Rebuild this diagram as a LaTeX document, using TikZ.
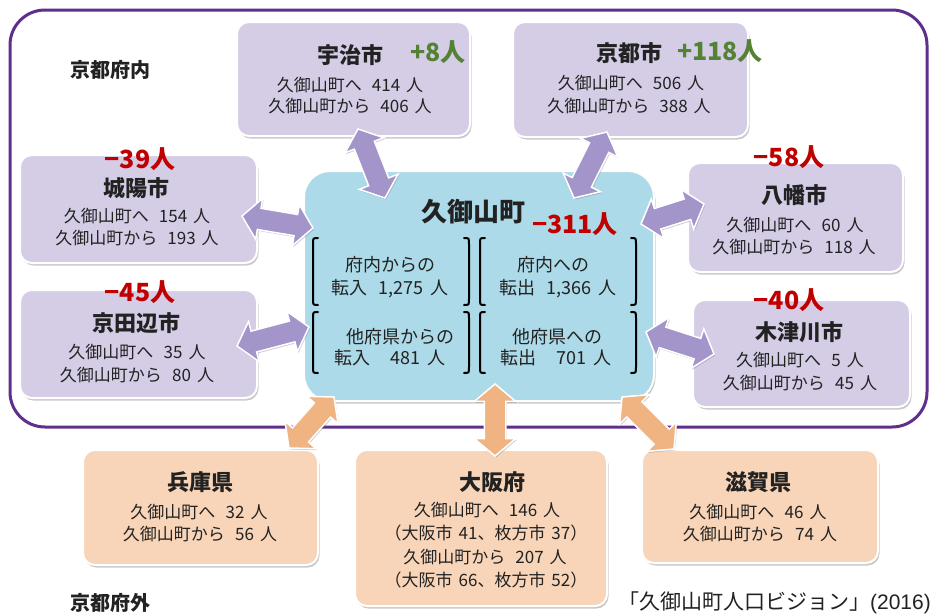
\documentclass[tikz,border=0pt]{standalone}
\usepackage{fontspec}
\setmainfont{Noto Sans CJK JP}
\newfontfamily\capfont{Liberation Sans}
\usetikzlibrary{shapes.arrows,calc,shadows}
\definecolor{framepurple}{RGB}{94,48,140}
\definecolor{lavbox}{RGB}{213,204,230}
\definecolor{arrowpurple}{RGB}{163,148,202}
\definecolor{centerblue}{RGB}{172,218,232}
\definecolor{peachbox}{RGB}{248,213,184}
\definecolor{arroworange}{RGB}{240,180,130}
\definecolor{lossred}{RGB}{192,0,0}
\definecolor{gaingreen}{RGB}{84,130,53}
\definecolor{txt}{RGB}{34,34,34}
\newcommand\numgap{\hspace{0.6em}}
\newcommand\unitgap{\hspace{0.35em}}
\newcommand\linkarrow[4]{%
  \path let \p1=(#3), \p2=(#4), \n1={atan2(\y2-\y1,\x2-\x1)}, \n2={veclen(\x2-\x1,\y2-\y1)} in
    node[#2, rotate=\n1, minimum height=\n2] (#1) at ($(#3)!0.5!(#4)$) {};}
\tikzset{
  areabox/.style={rounded corners=12pt, draw=white, line width=2pt, inner sep=0pt,
    drop shadow={shadow xshift=1.5pt, shadow yshift=-2.5pt, opacity=0.35, fill=black!60}},
  lav/.style={areabox, fill=lavbox},
  peach/.style={areabox, fill=peachbox},
  blockarrow/.style={double arrow, inner xsep=0pt, inner ysep=10pt,
    double arrow head extend=10pt, double arrow tip angle=100, draw=white, line width=1.5pt,
    drop shadow={shadow xshift=1pt, shadow yshift=-1.5pt, opacity=0.3, fill=black!60}},
  parrow/.style={blockarrow, fill=arrowpurple},
  oarrow/.style={blockarrow, fill=arroworange},
  boxtitle/.style={font=\bfseries\fontsize{22}{24}\selectfont, text=txt, inner sep=0pt},
  numline/.style={font=\fontsize{17}{19}\selectfont, text=txt, inner sep=0pt},
  centerline/.style={font=\fontsize{18}{20}\selectfont, text=txt, inner sep=0pt},
  areaname/.style={font=\bfseries\fontsize{20}{22}\selectfont, text=txt, inner sep=0pt},
  loss/.style={font=\bfseries\fontsize{25}{27}\selectfont, text=lossred, inner sep=0pt},
  gain/.style={font=\bfseries\fontsize{25}{27}\selectfont, text=gaingreen, inner sep=0pt},
  bracket/.style={line width=2pt, line cap=round, draw=black}
}
\begin{document}
\begin{tikzpicture}[x=1pt,y=-1pt]
\useasboundingbox (0,0) rectangle (932,614);
\fill[white] (0,0) rectangle (932,614);
% frame of the prefecture
\node[draw=framepurple, line width=3pt, rounded corners=35pt, minimum width=917pt, minimum height=417pt, inner sep=0pt] (inner) at (468.5,218.5) {};
\node[areaname] (inlabel) at (110,70) {京都府内};
\node[areaname] (outlabel) at (110,603) {京都府外};
% boxes
\node[lav, minimum width=233pt, minimum height=114pt] (uji) at (353.5,79) {};
\node[lav, minimum width=235pt, minimum height=115pt] (kyoto) at (630.5,79.5) {};
\node[lav, minimum width=237pt, minimum height=108pt] (joyo) at (138.5,209) {};
\node[lav, minimum width=237pt, minimum height=108pt] (tanabe) at (138.5,344) {};
\node[lav, minimum width=215pt, minimum height=109pt] (yawata) at (795.5,217.5) {};
\node[lav, minimum width=217pt, minimum height=107pt] (kizu) at (801.5,353.5) {};
\node[peach, minimum width=235pt, minimum height=115pt] (hyogo) at (200.5,507.5) {};
\node[peach, minimum width=252pt, minimum height=156pt] (osaka) at (481,528) {};
\node[peach, minimum width=236pt, minimum height=113pt] (shiga) at (760,506.5) {};
\node[areabox, fill=centerblue, rounded corners=26pt, minimum width=350pt, minimum height=230pt] (kumi) at (479,286) {};
% arrow end points
\coordinate (ujiE) at (358,129);
\coordinate (ujiF) at (385,198);
\coordinate (kyoE) at (607,132);
\coordinate (kyoF) at (574,198);
\coordinate (joyE) at (242,216);
\coordinate (joyF) at (313,228);
\coordinate (tanE) at (237,346);
\coordinate (tanF) at (309,327);
\coordinate (yawE) at (641,224);
\coordinate (yawF) at (704,204);
\coordinate (kizE) at (646,332);
\coordinate (kizF) at (714,354);
\coordinate (hyoE) at (289,448);
\coordinate (hyoF) at (334,397);
\coordinate (osaE) at (495,384);
\coordinate (osaF) at (495,456);
\coordinate (shiE) at (622,397);
\coordinate (shiF) at (674,449);
\linkarrow{a1}{parrow}{ujiE}{ujiF}
\linkarrow{a2}{parrow}{kyoE}{kyoF}
\linkarrow{a3}{parrow}{joyE}{joyF}
\linkarrow{a4}{parrow}{tanE}{tanF}
\linkarrow{a5}{parrow}{yawE}{yawF}
\linkarrow{a6}{parrow}{kizE}{kizF}
\linkarrow{a7}{oarrow}{hyoE}{hyoF}
\linkarrow{a8}{oarrow}{osaE}{osaF}
\linkarrow{a9}{oarrow}{shiE}{shiF}
% texts: Uji
\node[boxtitle] (ujiT) at (350,55) {宇治市};
\node[gain] (ujiG) at (438,52) {+8人};
\node[numline] (ujiA) at (350,85) {久御山町へ\numgap{}414\unitgap{}人};
\node[numline] (ujiB) at (350,106) {久御山町から\numgap{}406\unitgap{}人};
% Kyoto
\node[boxtitle] (kyoT) at (629,53) {京都市};
\node[gain] (kyoG) at (720,51) {+118人};
\node[numline] (kyoA) at (631,83) {久御山町へ\numgap{}506\unitgap{}人};
\node[numline] (kyoB) at (629,106) {久御山町から\numgap{}388\unitgap{}人};
% Joyo
\node[loss] (joyL) at (140,159) {−39人};
\node[boxtitle] (joyT) at (136,188) {城陽市};
\node[numline] (joyA) at (137,216) {久御山町へ\numgap{}154\unitgap{}人};
\node[numline] (joyB) at (137,238) {久御山町から\numgap{}193\unitgap{}人};
% Kyotanabe
\node[loss] (tanL) at (140,292) {−45人};
\node[boxtitle] (tanT) at (136,323) {京田辺市};
\node[numline] (tanA) at (137,352) {久御山町へ\numgap{}35\unitgap{}人};
\node[numline] (tanB) at (137,375) {久御山町から\numgap{}80\unitgap{}人};
% Yawata
\node[loss] (yawL) at (789,157) {−58人};
\node[boxtitle] (yawT) at (794,195) {八幡市};
\node[numline] (yawA) at (795,225) {久御山町へ\numgap{}60\unitgap{}人};
\node[numline] (yawB) at (794,247) {久御山町から\numgap{}118\unitgap{}人};
% Kizugawa
\node[loss] (kizL) at (789,300) {−40人};
\node[boxtitle] (kizT) at (799,332) {木津川市};
\node[numline] (kizA) at (800,360) {久御山町へ\numgap{}5\unitgap{}人};
\node[numline] (kizB) at (800,383) {久御山町から\numgap{}45\unitgap{}人};
% Kumiyama
\node[font=\bfseries\fontsize{26}{28}\selectfont, text=txt, inner sep=0pt] (kumiT) at (473,212) {久御山町};
\node[loss] (kumiL) at (575,224) {−311人};
\node[centerline] (inA) at (390,265) {府内からの};
\node[centerline] (inB) at (390,289) {転入\numgap{}1,275\unitgap{}人};
\node[centerline] (outA) at (553,265) {府内への};
\node[centerline] (outB) at (558,289) {転出\numgap{}1,366\unitgap{}人};
\node[centerline] (in2A) at (400,337) {他府県からの};
\node[centerline] (in2B) at (390,358) {転入\hspace{1.1em}481\unitgap{}人};
\node[centerline] (out2A) at (557,337) {他府県への};
\node[centerline] (out2B) at (556,358) {転出\hspace{1.1em}701\unitgap{}人};
% brackets
\foreach \bx/\by/\ey in {313/238/305, 480/238/305, 313/312/373, 480/312/373}{
  \draw[bracket] (\bx+5,\by) .. controls (\bx,\by) .. (\bx,\by+6) -- (\bx,\ey-6) .. controls (\bx,\ey) .. (\bx+5,\ey);
}
\foreach \bx/\by/\ey in {469/238/305, 636/238/305, 469/312/373, 636/312/373}{
  \draw[bracket] (\bx-5,\by) .. controls (\bx,\by) .. (\bx,\by+6) -- (\bx,\ey-6) .. controls (\bx,\ey) .. (\bx-5,\ey);
}
% Hyogo
\node[boxtitle] (hyoT) at (200,482) {兵庫県};
\node[numline] (hyoA) at (199,512) {久御山町へ\numgap{}32\unitgap{}人};
\node[numline] (hyoB) at (200,534) {久御山町から\numgap{}56\unitgap{}人};
% Osaka
\node[boxtitle] (osaT) at (492,482) {大阪府};
\node[numline] (osaA) at (487,510) {久御山町へ\numgap{}146\unitgap{}人};
\node[numline] (osaB) at (486,533) {（大阪市\unitgap{}41、枚方市\unitgap{}37）};
\node[numline] (osaC) at (485,557) {久御山町から\numgap{}207\unitgap{}人};
\node[numline] (osaD) at (486,580) {（大阪市\unitgap{}66、枚方市\unitgap{}52）};
% Shiga
\node[boxtitle] (shiT) at (758,482) {滋賀県};
\node[numline] (shiA) at (758,512) {久御山町へ\numgap{}46\unitgap{}人};
\node[numline] (shiB) at (760,534) {久御山町から\numgap{}74\unitgap{}人};
% source
\node[font=\fontsize{21}{23}\selectfont, text=txt, inner sep=0pt, anchor=east] (source) at (931,603) {「久御山町人口ビジョン」{\capfont (2016)}};
\end{tikzpicture}
\end{document}
